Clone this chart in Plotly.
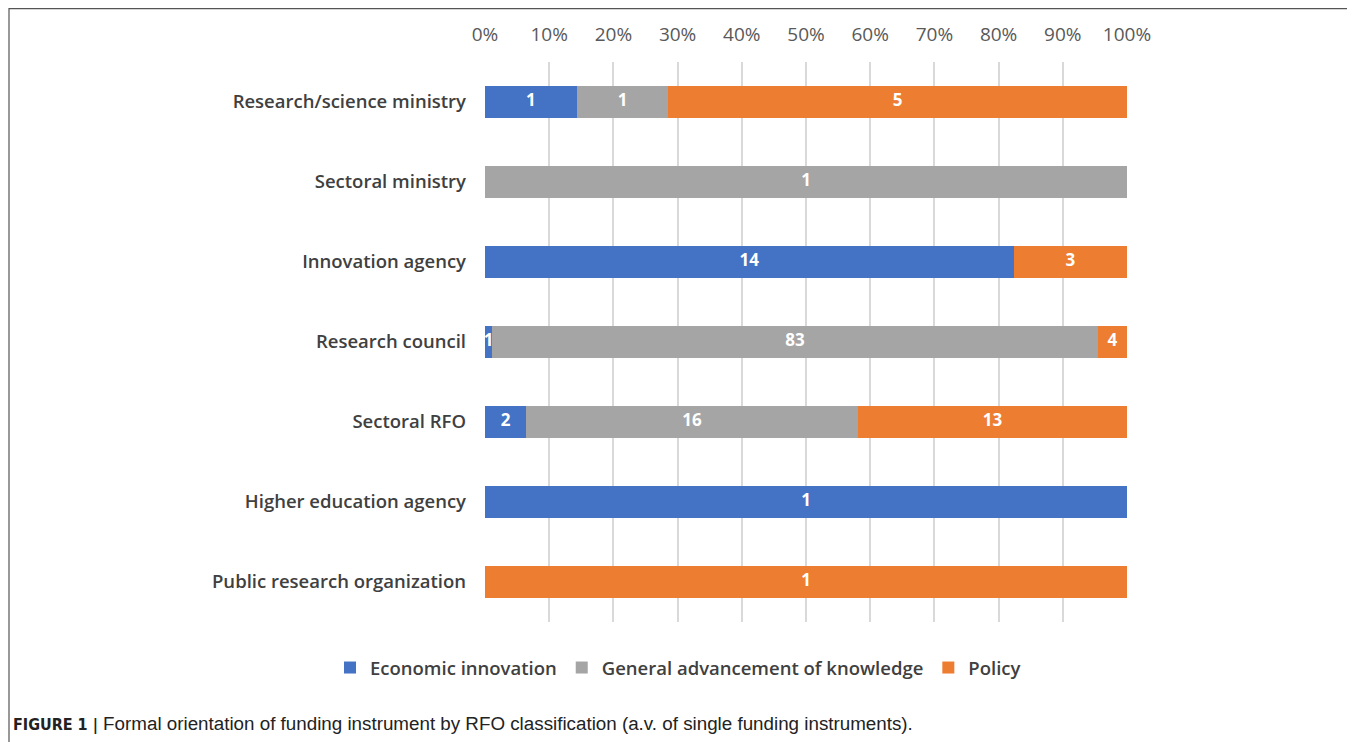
import plotly.graph_objects as go

categories = ["Research/science ministry", "Sectoral ministry", "Innovation agency",
              "Research council", "Sectoral RFO", "Higher education agency",
              "Public research organization"]
economic = [1, 0, 14, 1, 2, 1, 0]
general = [1, 1, 0, 83, 16, 0, 0]
policy = [5, 0, 3, 4, 13, 0, 1]
series_names = ["Economic innovation", "General advancement of knowledge", "Policy"]
colors = ["#4472C4", "#A5A5A5", "#ED7D31"]
tick_vals = [0, 10, 20, 30, 40, 50, 60, 70, 80, 90, 100]
tick_text = [f"{v}%" for v in tick_vals]
caption_bold = "FIGURE 1 |"
caption_rest = " Formal orientation of funding instrument by RFO classification (a.v. of single funding instruments)."

O = 8  # page offset of the figure inside the browser window
W, H = 1355 - O, 742 - O
L, R, T, B = 485 - O, 1127 - O, 62 - O, 622 - O

all_series = [economic, general, policy]
totals = [sum(s[i] for s in all_series) for i in range(len(categories))]

fig = go.Figure()
for name, vals, col in zip(series_names, all_series, colors):
    fig.add_trace(go.Bar(
        y=categories, x=vals, name=name, orientation="h",
        marker=dict(color=col, line=dict(width=0)),
        hovertemplate="%{y}: %{x}<extra>" + name + "</extra>",
    ))

# value labels centred in each segment (percent positions derived from the data)
lab_x, lab_y, lab_t = [], [], []
for i, cat in enumerate(categories):
    cum = 0.0
    for s in all_series:
        v = s[i]
        pct = 100.0 * v / totals[i]
        if v:
            lab_x.append(cum + pct / 2)
            lab_y.append(cat)
            lab_t.append(str(v))
        cum += pct
fig.add_trace(go.Scatter(
    x=lab_x, y=lab_y, text=lab_t, mode="text", showlegend=False,
    textfont=dict(family="Open Sans", size=17, color="white", weight="bold"),
    textposition="middle center", cliponaxis=False, hoverinfo="skip",
))

def px_x(p):
    return (p - O - L) / (R - L)

def px_y(p):
    return (B - (p - O)) / (B - T)

fig.update_layout(
    width=W, height=H,
    barmode="stack", barnorm="percent", bargap=0.6,
    plot_bgcolor="white", paper_bgcolor="white",
    margin=dict(l=L, r=W - R, t=T, b=H - B, autoexpand=False),
    xaxis=dict(side="top", range=[0, 100], tickvals=tick_vals, ticktext=tick_text,
               showgrid=True, gridcolor="#D9D9D9", gridwidth=1.5, zeroline=False,
               tickfont=dict(family="Open Sans", size=19, color="#595959"), ticks="",
               ticklabelstandoff=16, fixedrange=True),
    yaxis=dict(categoryorder="array", categoryarray=categories, autorange="reversed",
               showgrid=False, zeroline=False, ticks="",
               tickfont=dict(family="Open Sans", size=18.5, color="#404040", weight=600),
               ticklabelstandoff=18),
    legend=dict(orientation="h", x=px_x(330), xanchor="left", y=px_y(668), yanchor="middle",
                font=dict(family="Open Sans", size=18.5, color="#404040", weight=600),
                traceorder="normal", itemwidth=30),
    showlegend=True,
)

fig.add_shape(type="rect", xref="paper", yref="paper",
              x0=px_x(9), x1=px_x(1354), y0=px_y(800), y1=px_y(8.6),
              line=dict(color="#555555", width=1.2), fillcolor="rgba(0,0,0,0)", layer="below")

fig.add_annotation(xref="paper", yref="paper", x=px_x(11), y=px_y(724),
                   xanchor="left", yanchor="middle", showarrow=False,
                   text=(f"<span style='font-family:DejaVu Sans Condensed;font-size:16px'><b>{caption_bold}</b></span>"
                         f"{caption_rest}"),
                   font=dict(family="Liberation Sans", size=18.8, color="#222222"))

fig.write_html("out.html")
